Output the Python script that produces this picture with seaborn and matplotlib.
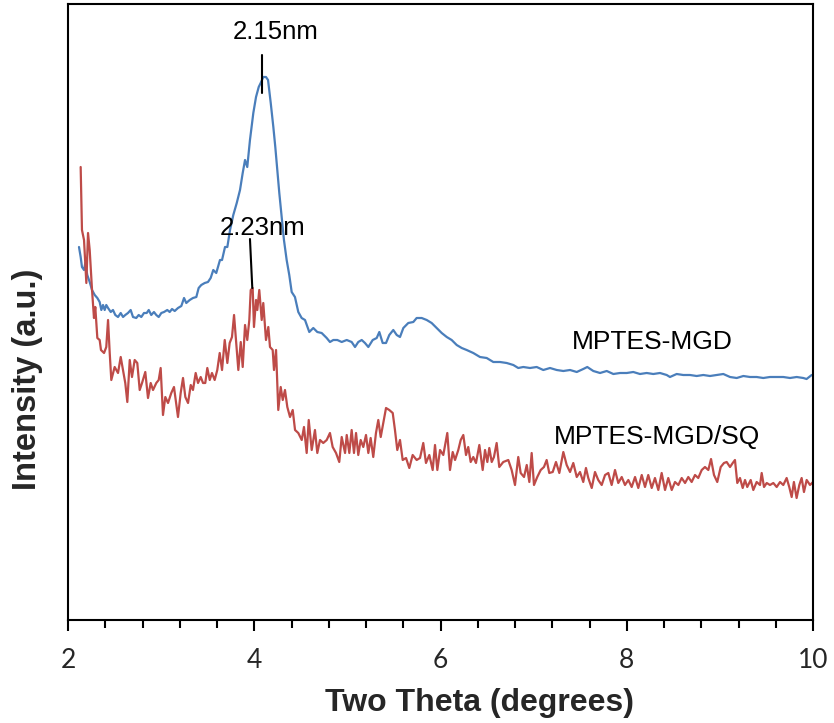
import numpy as np
import pandas as pd
import matplotlib
matplotlib.use("Agg")
import matplotlib.pyplot as plt
import seaborn as sns
from matplotlib.ticker import MultipleLocator

# ---- data ----
mgd_theta = [2.118, 2.136, 2.150, 2.172, 2.186, 2.207, 2.233, 2.258, 2.287, 2.315,
             2.340, 2.358, 2.376, 2.394, 2.411, 2.430, 2.459, 2.483, 2.508, 2.537,
             2.566, 2.591, 2.615, 2.644, 2.673, 2.698, 2.733, 2.759, 2.787, 2.816,
             2.845, 2.867, 2.894, 2.923, 2.948, 2.974, 3.002, 3.031, 3.066, 3.092,
             3.117, 3.146, 3.181, 3.217, 3.246, 3.270, 3.307, 3.342, 3.378, 3.403,
             3.431, 3.468, 3.503, 3.532, 3.560, 3.592, 3.632, 3.654, 3.686, 3.711,
             3.740, 3.775, 3.812, 3.847, 3.876, 3.901, 3.925, 3.954, 3.990, 4.019,
             4.048, 4.069, 4.097, 4.126, 4.148, 4.177, 4.205, 4.226, 4.248, 4.269,
             4.295, 4.319, 4.348, 4.376, 4.402, 4.437, 4.473, 4.509, 4.545, 4.591,
             4.634, 4.677, 4.724, 4.778, 4.813, 4.849, 4.892, 4.939, 4.993, 5.046,
             5.082, 5.117, 5.154, 5.189, 5.225, 5.272, 5.315, 5.343, 5.379, 5.415,
             5.450, 5.493, 5.530, 5.565, 5.601, 5.654, 5.708, 5.744, 5.798, 5.852,
             5.905, 5.959, 6.013, 6.067, 6.120, 6.174, 6.228, 6.281, 6.352, 6.424,
             6.496, 6.567, 6.639, 6.711, 6.782, 6.835, 6.889, 6.961, 7.033, 7.104,
             7.176, 7.248, 7.319, 7.391, 7.463, 7.533, 7.576, 7.641, 7.713, 7.785,
             7.856, 7.928, 8.000, 8.070, 8.142, 8.214, 8.285, 8.357, 8.429, 8.464,
             8.536, 8.607, 8.679, 8.751, 8.822, 8.894, 8.966, 9.037, 9.109, 9.181,
             9.252, 9.324, 9.395, 9.466, 9.538, 9.610, 9.681, 9.753, 9.825, 9.896,
             9.931, 9.986]
mgd_int = [373, 363, 353, 350, 357, 345, 338, 330, 325, 322,
           318, 310, 315, 310, 315, 312, 308, 310, 305, 303,
           307, 303, 305, 307, 310, 303, 302, 305, 303, 307,
           307, 310, 305, 308, 305, 303, 307, 308, 310, 308,
           311, 309, 312, 314, 322, 317, 320, 322, 323, 332,
           335, 337, 338, 342, 350, 347, 360, 360, 373, 373,
           390, 405, 417, 430, 447, 460, 453, 480, 507, 523,
           533, 537, 543, 543, 540, 517, 493, 473, 450, 427,
           403, 380, 360, 345, 328, 323, 308, 302, 300, 288,
           292, 288, 287, 282, 278, 280, 280, 278, 280, 278,
           273, 278, 280, 277, 273, 280, 282, 288, 277, 277,
           285, 290, 285, 283, 292, 297, 298, 302, 302, 300,
           297, 292, 287, 283, 280, 275, 272, 270, 267, 263,
           262, 258, 258, 257, 255, 252, 253, 252, 253, 250,
           252, 250, 249, 250, 248, 251, 253, 249, 247, 249,
           246, 247, 247, 248, 246, 247, 246, 247, 245, 243,
           246, 245, 245, 244, 245, 244, 245, 246, 243, 242,
           244, 243, 243, 242, 243, 243, 243, 242, 243, 242,
           241, 245]

sq_theta = [2.136, 2.150, 2.172, 2.197, 2.215, 2.233, 2.258, 2.279, 2.293, 2.315,
            2.340, 2.354, 2.387, 2.411, 2.430, 2.448, 2.465, 2.501, 2.537, 2.566,
            2.591, 2.615, 2.637, 2.663, 2.687, 2.716, 2.744, 2.770, 2.795, 2.830,
            2.859, 2.888, 2.913, 2.948, 2.974, 2.995, 3.020, 3.045, 3.074, 3.109,
            3.138, 3.152, 3.181, 3.210, 3.235, 3.260, 3.289, 3.318, 3.342, 3.371,
            3.396, 3.425, 3.450, 3.474, 3.496, 3.522, 3.546, 3.575, 3.603, 3.629,
            3.654, 3.683, 3.711, 3.736, 3.761, 3.783, 3.807, 3.829, 3.855, 3.876,
            3.901, 3.925, 3.947, 3.962, 3.983, 3.997, 4.019, 4.033, 4.054, 4.080,
            4.097, 4.126, 4.151, 4.169, 4.198, 4.212, 4.234, 4.258, 4.284, 4.306,
            4.330, 4.355, 4.384, 4.413, 4.438, 4.473, 4.510, 4.534, 4.563, 4.585,
            4.617, 4.652, 4.677, 4.706, 4.741, 4.778, 4.813, 4.842, 4.878, 4.913,
            4.939, 4.975, 4.993, 5.021, 5.046, 5.071, 5.093, 5.117, 5.143, 5.171,
            5.200, 5.225, 5.250, 5.278, 5.307, 5.332, 5.358, 5.386, 5.415, 5.450,
            5.487, 5.511, 5.536, 5.565, 5.594, 5.630, 5.665, 5.701, 5.744, 5.780,
            5.815, 5.844, 5.880, 5.916, 5.941, 5.966, 5.995, 6.030, 6.073, 6.102,
            6.131, 6.156, 6.191, 6.217, 6.245, 6.274, 6.298, 6.324, 6.352, 6.381,
            6.417, 6.453, 6.478, 6.503, 6.524, 6.550, 6.574, 6.603, 6.631, 6.674,
            6.728, 6.764, 6.800, 6.835, 6.861, 6.897, 6.926, 6.954, 6.979, 7.004,
            7.039, 7.076, 7.111, 7.140, 7.168, 7.205, 7.240, 7.276, 7.319, 7.355,
            7.391, 7.426, 7.463, 7.498, 7.533, 7.562, 7.587, 7.624, 7.659, 7.694,
            7.731, 7.767, 7.802, 7.838, 7.874, 7.909, 7.946, 7.981, 8.017, 8.053,
            8.089, 8.124, 8.161, 8.196, 8.231, 8.268, 8.303, 8.339, 8.375, 8.411,
            8.446, 8.483, 8.518, 8.554, 8.590, 8.626, 8.661, 8.697, 8.733, 8.768,
            8.805, 8.840, 8.876, 8.905, 8.937, 8.972, 9.009, 9.044, 9.073, 9.109,
            9.138, 9.162, 9.187, 9.216, 9.245, 9.270, 9.294, 9.331, 9.359, 9.395,
            9.431, 9.449, 9.474, 9.503, 9.538, 9.574, 9.610, 9.646, 9.681, 9.717,
            9.745, 9.771, 9.795, 9.824, 9.853, 9.878, 9.903, 9.932, 9.968, 10.000]
sq_int = [453, 390, 380, 337, 387, 370, 330, 302, 313, 282,
          280, 270, 267, 273, 300, 267, 240, 253, 247, 263,
          250, 237, 218, 260, 243, 260, 257, 230, 237, 248,
          222, 237, 230, 237, 240, 252, 205, 223, 217, 227,
          233, 223, 203, 227, 242, 223, 217, 235, 230, 247,
          237, 243, 237, 237, 252, 240, 247, 240, 250, 267,
          250, 280, 257, 277, 283, 305, 277, 250, 278, 253,
          295, 280, 300, 330, 332, 293, 320, 310, 330, 300,
          317, 280, 293, 273, 270, 250, 270, 210, 233, 220,
          230, 213, 203, 210, 190, 187, 180, 193, 167, 200,
          170, 190, 167, 180, 177, 180, 187, 173, 167, 158,
          183, 167, 185, 167, 190, 167, 187, 165, 180, 173,
          185, 167, 182, 163, 187, 200, 183, 197, 212, 210,
          207, 190, 170, 180, 160, 162, 152, 165, 160, 162,
          177, 157, 165, 150, 175, 150, 170, 165, 187, 150,
          168, 160, 170, 180, 185, 165, 173, 158, 163, 157,
          175, 150, 170, 158, 172, 158, 163, 177, 153, 158,
          160, 150, 135, 163, 147, 143, 155, 138, 167, 135,
          143, 150, 153, 160, 147, 148, 158, 147, 168, 155,
          148, 157, 143, 148, 138, 152, 142, 132, 148, 140,
          135, 145, 147, 135, 150, 137, 143, 135, 140, 133,
          143, 132, 145, 133, 145, 132, 142, 130, 147, 130,
          142, 130, 138, 135, 142, 137, 143, 138, 145, 142,
          150, 153, 150, 161, 145, 138, 153, 157, 158, 153,
          157, 160, 137, 142, 132, 140, 133, 140, 130, 138,
          135, 147, 133, 137, 135, 137, 133, 138, 135, 142,
          133, 123, 138, 122, 135, 142, 128, 140, 135, 138]

series_names = ["MPTES-MGD", "MPTES-MGD/SQ"]
series_colors = ["#4A7EBB", "#BE4B48"]
x_ticks = [2, 4, 6, 8, 10]
x_tick_labels = ["2", "4", "6", "8", "10"]

# peak annotations: label, text anchor, leader line (start/end)
peak_labels = ["2.15nm", "2.23nm"]
peak_text_x = [4.23, 4.09]
peak_text_y = [588, 392]
peak_line_x0 = [4.08, 3.954]
peak_line_x1 = [4.08, 3.979]
peak_line_y0 = [565, 381]
peak_line_y1 = [527, 332]

# series labels placed on the chart
series_label_x = [8.27, 8.33]
series_label_y = [278, 183]

# ---- build figure ----
sns.set_theme(style="ticks")
plt.rcParams['font.family'] = ['Liberation Sans', 'DejaVu Sans']

df = pd.concat([
    pd.DataFrame({"theta": mgd_theta, "intensity": mgd_int, "sample": series_names[0]}),
    pd.DataFrame({"theta": sq_theta, "intensity": sq_int, "sample": series_names[1]}),
], ignore_index=True)

fig = plt.figure(figsize=(8.34, 7.23), dpi=100)
ax = fig.add_axes([68 / 834, 1 - 620 / 723, (813 - 68) / 834, (620 - 4) / 723])

sns.lineplot(data=df, x="theta", y="intensity", hue="sample",
             palette=dict(zip(series_names, series_colors)),
             estimator=None, sort=False, linewidth=1.6, legend=False, ax=ax)

ax.set_xlim(2, 10)
ax.set_ylim(0, 616)
ax.set_xticks(x_ticks, labels=x_tick_labels, fontsize=19,
              fontfamily=["Lato", "DejaVu Sans"])
ax.xaxis.set_minor_locator(MultipleLocator(0.4))
ax.set_yticks([])

for s in ax.spines.values():
    s.set_visible(True)
    s.set_color("black")
    s.set_linewidth(1.5)

ax.tick_params(axis="x", which="major", direction="out", length=8, width=1.5,
               color="black", pad=12)
ax.tick_params(axis="x", which="minor", direction="out", length=5.5, width=1.5,
               color="black")

ax.set_xlabel("Two Theta (degrees)", fontsize=23, fontweight="bold", labelpad=11)
ax.set_ylabel("Intensity (a.u.)", fontsize=23.5, fontweight="bold", labelpad=18)
ax.xaxis.label.set_x(0.553)
ax.yaxis.label.set_y(0.391)

for i, lab in enumerate(peak_labels):
    ax.text(peak_text_x[i], peak_text_y[i], lab, fontsize=18.5, ha="center",
            va="center", color="black")
    ax.plot([peak_line_x0[i], peak_line_x1[i]], [peak_line_y0[i], peak_line_y1[i]],
            color="black", linewidth=1.5)

for i, name in enumerate(series_names):
    ax.text(series_label_x[i], series_label_y[i], name, fontsize=19,
            ha="center", va="center", color="black")

fig.savefig("out.png", dpi=100)
